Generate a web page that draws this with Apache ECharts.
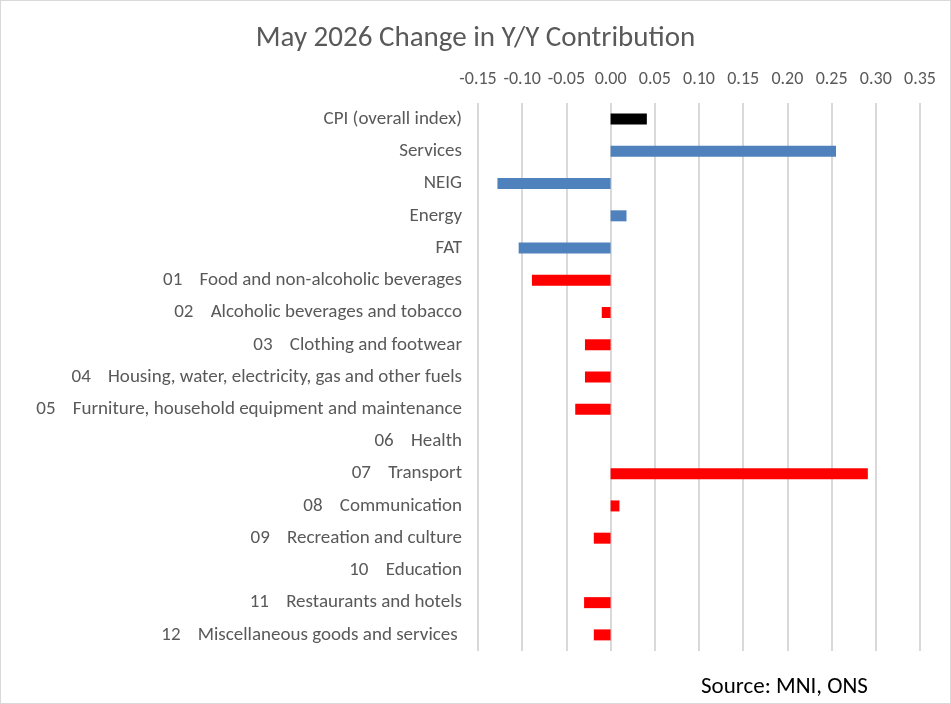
<!DOCTYPE html>
<html>
<head>
<meta charset="utf-8">
<script src="https://cdn.jsdelivr.net/npm/echarts@6/dist/echarts.min.js"></script>
<style>
  html, body { margin: 0; padding: 0; background: #fff; }
  #chart { width: 949px; height: 702px; border: 1px solid #d9d9d9; }
</style>
</head>
<body>
<div id="chart"></div>
<script>
// categories, top to bottom
const categories = [
  'CPI (overall index)',
  'Services',
  'NEIG',
  'Energy',
  'FAT',
  '01    Food and non-alcoholic beverages',
  '02    Alcoholic beverages and tobacco',
  '03    Clothing and footwear',
  '04    Housing, water, electricity, gas and other fuels',
  '05    Furniture, household equipment and maintenance',
  '06    Health',
  '07    Transport',
  '08    Communication',
  '09    Recreation and culture',
  '10    Education',
  '11    Restaurants and hotels',
  '12    Miscellaneous goods and services '
]
// change in y/y contribution (pp)
const values = [0.041, 0.255, -0.128, 0.018, -0.104, -0.089, -0.010, -0.029, -0.029, -0.040, 0, 0.291, 0.010, -0.019, 0, -0.030, -0.019]
// which group each row belongs to
const groups = ['total', 'special', 'special', 'special', 'special', 'coicop', 'coicop', 'coicop', 'coicop', 'coicop', 'coicop', 'coicop', 'coicop', 'coicop', 'coicop', 'coicop', 'coicop']
const xTicks = [-0.15, -0.10, -0.05, 0.00, 0.05, 0.10, 0.15, 0.20, 0.25, 0.30, 0.35]

const groupColors = { total: '#000000', special: '#4f81bd', coicop: '#ff0000' }
const font = 'Carlito, Lato, sans-serif'

const chart = echarts.init(document.getElementById('chart'))
chart.setOption({
  animation: false,
  title: {
    text: 'May 2026 Change in Y/Y Contribution',
    left: 'center',
    top: 18,
    textStyle: { fontFamily: font, fontSize: 29, fontWeight: 'normal', color: '#595959' }
  },
  grid: { left: 477, right: 30, top: 102, bottom: 52 },
  xAxis: {
    type: 'value',
    position: 'top',
    min: xTicks[0],
    max: xTicks[xTicks.length - 1],
    interval: 0.05,
    axisLine: { show: false },
    axisTick: { show: false },
    axisLabel: {
      margin: 15,
      fontFamily: font, fontSize: 18, color: '#595959',
      formatter: v => v.toFixed(2)
    },
    splitLine: { lineStyle: { color: '#d9d9d9', width: 2 } }
  },
  yAxis: {
    type: 'category',
    inverse: true,
    data: categories,
    axisLine: { show: false },
    axisTick: { show: false },
    axisLabel: { margin: 16, fontFamily: font, fontSize: 19, color: '#595959' }
  },
  series: [{
    type: 'bar',
    barWidth: 11,
    data: values.map((v, i) => ({ value: v, itemStyle: { color: groupColors[groups[i]] } }))
  }],
  graphic: [{
    type: 'text',
    left: 700,
    top: 675,
    style: { text: 'Source: MNI, ONS', fontFamily: font, fontSize: 23, fill: '#000' }
  }]
})
</script>
</body>
</html>
